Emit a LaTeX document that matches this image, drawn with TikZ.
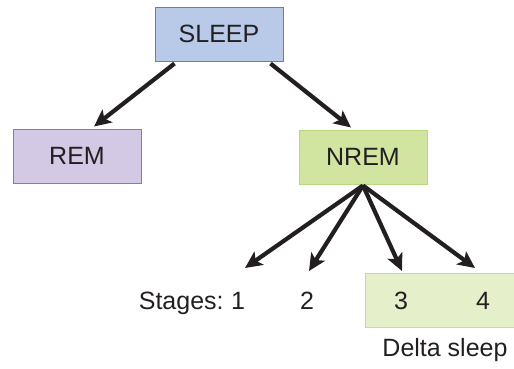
\documentclass[tikz,border=0pt]{standalone}
\usepackage{fontspec}
\setmainfont{Liberation Sans}
\usetikzlibrary{arrows.meta, positioning}
\definecolor{sleepfill}{RGB}{185, 202, 233}
\definecolor{sleepline}{RGB}{59, 142, 212}
\definecolor{remfill}{RGB}{212, 201, 228}
\definecolor{remline}{RGB}{155, 108, 192}
\definecolor{nremfill}{RGB}{209, 229, 161}
\definecolor{nremline}{RGB}{184, 215, 126}
\definecolor{deltafill}{RGB}{229, 240, 203}
\definecolor{deltaline}{RGB}{197, 222, 146}
\definecolor{inkdark}{RGB}{35, 31, 32}
\tikzset{
  stagebox/.style={rectangle, minimum width=128pt, minimum height=54pt,
    align=center, line width=1pt, text=inkdark,
    font=\fontsize{25}{30}\selectfont},
  label/.style={inner sep=0pt, text=inkdark, font=\fontsize{25}{30}\selectfont},
  arrow/.style={-{Stealth[length=17pt, width=16pt, inset=4pt]},
    line width=4.2pt, color=inkdark},
}
\begin{document}
\begin{tikzpicture}[x=1pt, y=-1pt]
  \useasboundingbox (0,0) rectangle (514,368);

  % ── Delta sleep band ──
  \draw[line width=1pt, draw=deltaline, fill=deltafill] (365,273) rectangle (520,327);

  % ── Main boxes ──
  \node[stagebox, fill=sleepfill, draw=sleepline] (sleep) at (219,34) {SLEEP};
  \node[stagebox, fill=remfill, draw=remline, below left=67pt and 13pt of sleep] (rem) {REM};
  \node[stagebox, fill=nremfill, draw=nremline, below right=68pt and 15pt of sleep] (nrem) {NREM};

  % ── Stages ──
  \node[label] (s1) at (238,301) {1};
  \node[label, anchor=base east] (stages) at ([xshift=-7pt]s1.base west) {Stages:};
  \node[label] (s2) at (307,301) {2};
  \node[label] (s3) at (401,301) {3};
  \node[label] (s4) at (483,301) {4};
  \node[label] (delta) at (445,350) {Delta sleep};

  % ── Arrow ends ──
  \coordinate (t1) at (245,268);
  \coordinate (t2) at (309,271);
  \coordinate (t3) at (402,271);
  \coordinate (t4) at (475,268);

  % ── Arrows ──
  \draw[arrow] ([xshift=20pt, yshift=-2pt]sleep.south west) -- ([xshift=17pt, yshift=2pt]rem.north);
  \draw[arrow] ([xshift=-13pt, yshift=-2pt]sleep.south east) -- ([xshift=-12pt, yshift=2pt]nrem.north);
  \foreach \t in {t1, t2, t3, t4}
    \draw[arrow] ([yshift=-1pt]nrem.south) -- (\t);

\end{tikzpicture}
\end{document}
